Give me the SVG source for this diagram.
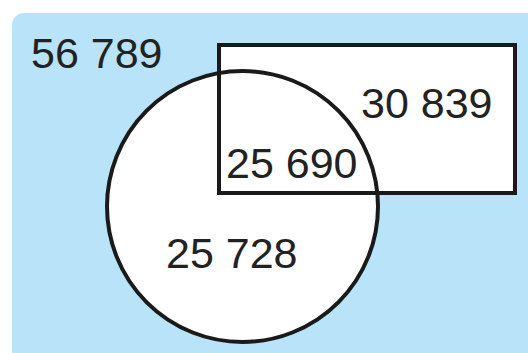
<svg xmlns="http://www.w3.org/2000/svg" width="528" height="353" viewBox="0 0 528 353">
<style>
.lbl{font-family:"Liberation Sans",Arial,sans-serif;font-size:43px;fill:#222;}
.shape{fill:#fff;stroke:#1a1a1a;stroke-width:4;}
.fillonly{fill:#fff;stroke:none;}
.outline{fill:none;stroke:#1a1a1a;stroke-width:4;}
</style>
<rect x="0" y="0" width="528" height="353" fill="#fff"/>
<rect id="background" x="12" y="13" width="530" height="350" rx="12" fill="#b8e3f8"/>
<text class="lbl" x="31" y="68">56 789</text>
<g id="circle-set-fill">
<circle cx="242.5" cy="206.5" r="135.5" class="fillonly"/>
</g>
<g id="rect-set">
<rect x="219" y="45" width="296" height="148" class="shape"/>
</g>
<g id="circle-set">
<circle cx="242.5" cy="206.5" r="135.5" class="outline"/>
</g>
<text class="lbl" x="361" y="118">30 839</text>
<text class="lbl" x="226" y="178">25 690</text>
<text class="lbl" x="166" y="268">25 728</text>
</svg>
